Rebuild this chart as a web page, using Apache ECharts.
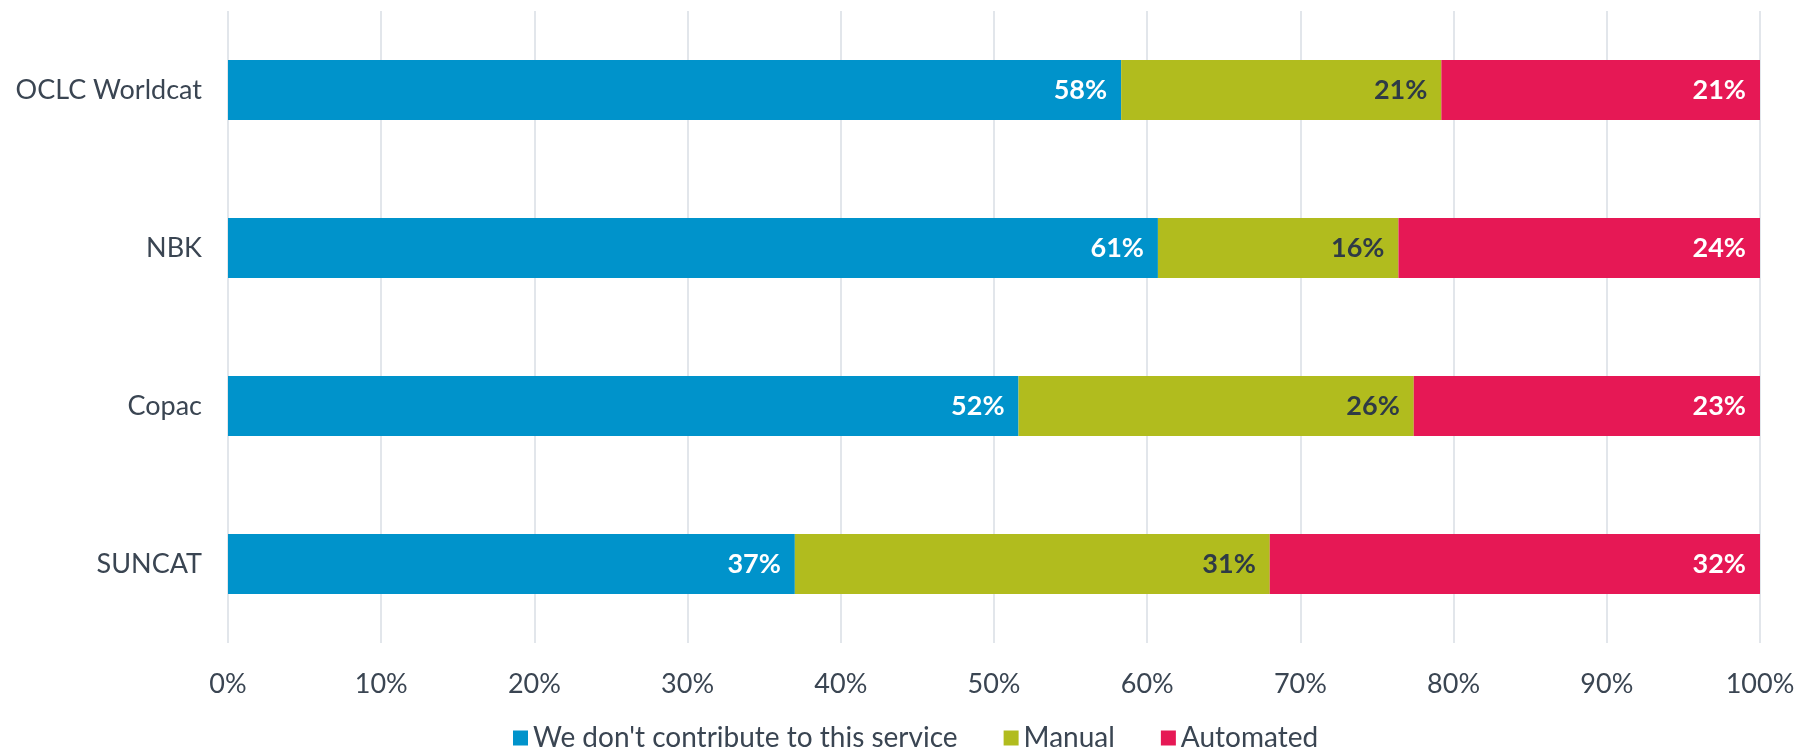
<!DOCTYPE html>
<html>
<head>
<meta charset="utf-8">
<script src="https://cdn.jsdelivr.net/npm/echarts@6/dist/echarts.min.js"></script>
<style>html,body{margin:0;padding:0;background:#fff}#c{width:1800px;height:753px}</style>
</head>
<body>
<div id="c"></div>
<script>
var categories = ['OCLC Worldcat', 'NBK', 'Copac', 'SUNCAT'];
var seriesNames = ["We don't contribute to this service", 'Manual', 'Automated'];
var notContribute = [58.3, 60.7, 51.6, 37.0];
var manual = [20.9, 15.7, 25.8, 31.0];
var automated = [20.8, 23.6, 22.6, 32.0];
var xTicks = [0, 10, 20, 30, 40, 50, 60, 70, 80, 90, 100];

var colors = ['#0093CB', '#B1BC1E', '#E61855'];
var labelColors = ['#FFFFFF', '#2E3A46', '#FFFFFF'];
var textColor = '#3A4552';
var font = 'Lato';

var chart = echarts.init(document.getElementById('c'), null, {renderer: 'canvas'});
var dataSets = [notContribute, manual, automated];
var series = dataSets.map(function (d, i) {
  return {
    name: seriesNames[i],
    type: 'bar',
    stack: 'total',
    barWidth: '38%',
    data: d,
    itemStyle: {color: colors[i]},
    label: {
      show: true,
      position: 'insideRight',
      distance: 14,
      color: labelColors[i],
      fontFamily: font,
      fontWeight: 'bold',
      fontSize: 27,
      formatter: function (p) { return Math.round(p.value) + '%'; }
    }
  };
});

chart.setOption({
  animation: false,
  color: colors,
  grid: {left: 228, right: 40, top: 11, bottom: 110, containLabel: false},
  legend: {
    top: 724,
    left: 513,
    padding: 0,
    itemWidth: 15,
    itemHeight: 15,
    itemGap: 46,
    icon: 'rect',
    textStyle: {color: textColor, fontFamily: font, fontSize: 28},
    data: seriesNames
  },
  xAxis: {
    type: 'value',
    min: 0,
    max: 100,
    interval: 10,
    axisLine: {show: false},
    axisTick: {show: false},
    splitLine: {show: true, lineStyle: {color: '#D9DEE4', width: 1.5}},
    axisLabel: {
      color: textColor, fontFamily: font, fontSize: 27, margin: 28,
      formatter: function (v) { return xTicks.indexOf(v) >= 0 ? v + '%' : ''; }
    }
  },
  yAxis: {
    type: 'category',
    inverse: true,
    data: categories,
    axisLine: {show: false},
    axisTick: {show: false},
    axisLabel: {color: textColor, fontFamily: font, fontSize: 27, margin: 26}
  },
  series: series
});
</script>
</body>
</html>
